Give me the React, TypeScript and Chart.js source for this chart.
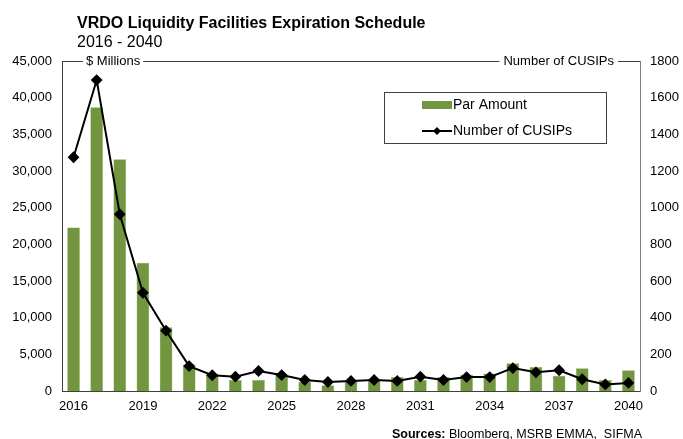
import React, { useEffect, useRef } from "react";
import { Chart, registerables } from "chart.js";

Chart.register(...registerables);

const years = Array.from({ length: 25 }, (_, i) => String(2016 + i));
const parAmount = [
  22300, 38700, 31600, 17500, 8700, 3550, 2300, 1500, 1500, 2200,
  1270, 780, 1400, 1600, 1900, 1500, 1900, 2200, 2400, 3800,
  3270, 2090, 3090, 1500, 2820,
];
const cusips = [
  1275, 1696, 964, 536, 329, 136, 86, 78, 109, 87,
  60, 49, 55, 60, 55, 78, 60, 76, 76, 125,
  102, 113, 64, 36, 44,
];
const leftTicks = [0, 5000, 10000, 15000, 20000, 25000, 30000, 35000, 40000, 45000];
const rightTicks = [0, 200, 400, 600, 800, 1000, 1200, 1400, 1600, 1800];

const FONT = "'Liberation Sans', Arial, sans-serif";
const GREEN = "#71963F";

const overlay = {
  id: "overlay",
  afterDraw(chart: any) {
    const ctx = chart.ctx;
    const a = chart.chartArea;
    ctx.save();
    // Title
    ctx.fillStyle = "#000";
    ctx.textBaseline = "alphabetic";
    ctx.textAlign = "left";
    ctx.font = `bold 16px ${FONT}`;
    ctx.fillText("VRDO Liquidity Facilities Expiration Schedule", 77, 28);
    ctx.font = `16px ${FONT}`;
    ctx.fillText("2016 - 2040", 77, 47);

    // Top frame with axis titles
    ctx.font = `13px ${FONT}`;
    ctx.textBaseline = "middle";
    const y = a.top;
    const leftTitle = "$ Millions";
    const rightTitle = "Number of CUSIPs";
    const lx = a.left + 24;
    const lw = ctx.measureText(leftTitle).width;
    const rw = ctx.measureText(rightTitle).width;
    const rx = a.right - 26 - rw;
    ctx.fillText(leftTitle, lx, y + 0.5);
    ctx.fillText(rightTitle, rx, y + 0.5);
    ctx.strokeStyle = "#404040";
    ctx.lineWidth = 1;
    ctx.beginPath();
    ctx.moveTo(a.left, y + 0.5);
    ctx.lineTo(lx - 3, y + 0.5);
    ctx.moveTo(lx + lw + 3, y + 0.5);
    ctx.lineTo(rx - 4, y + 0.5);
    ctx.moveTo(rx + rw + 4, y + 0.5);
    ctx.lineTo(a.right, y + 0.5);
    ctx.stroke();

    // Legend
    const bx = 384, by = 92, bw = 222, bh = 51;
    ctx.strokeStyle = "#404040";
    ctx.strokeRect(bx + 0.5, by + 0.5, bw, bh);
    ctx.fillStyle = GREEN;
    ctx.fillRect(422, 101, 30, 8);
    ctx.fillStyle = "#000";
    ctx.font = `14px ${FONT}`;
    ctx.textBaseline = "middle";
    ctx.fillText("Par Amount", 453, 105);
    ctx.strokeStyle = "#000";
    ctx.lineWidth = 2;
    ctx.beginPath();
    ctx.moveTo(422, 131);
    ctx.lineTo(452, 131);
    ctx.stroke();
    ctx.beginPath();
    ctx.moveTo(437, 127);
    ctx.lineTo(441, 131);
    ctx.lineTo(437, 135);
    ctx.lineTo(433, 131);
    ctx.closePath();
    ctx.fill();
    ctx.fillText("Number of CUSIPs", 453, 131);

    // Source
    ctx.textBaseline = "alphabetic";
    ctx.font = `bold 12.5px ${FONT}`;
    const s1 = "Sources:";
    ctx.fillText(s1, 392, 438);
    const w1 = ctx.measureText(s1).width;
    ctx.font = `12.5px ${FONT}`;
    ctx.fillText(" Bloomberg, MSRB EMMA,  SIFMA", 392 + w1, 438);
    ctx.restore();
  },
};

export default function App() {
  const ref = useRef<HTMLCanvasElement>(null);
  useEffect(() => {
    if (!ref.current) return;
    const chart = new Chart(ref.current, {
      type: "bar",
      data: {
        labels: years,
        datasets: [
          {
            type: "line",
            label: "Number of CUSIPs",
            data: cusips,
            yAxisID: "y1",
            borderColor: "#000",
            backgroundColor: "#000",
            borderWidth: 2,
            pointStyle: "rectRot",
            pointRadius: 4.5,
            pointBackgroundColor: "#000",
            pointBorderColor: "#000",
            tension: 0,
            order: 0,
          } as any,
          {
            type: "bar",
            label: "Par Amount",
            data: parAmount,
            yAxisID: "y",
            backgroundColor: GREEN,
            borderColor: "#8CAB62",
            borderWidth: 0.5,
            categoryPercentage: 1,
            barPercentage: 0.55,
            order: 1,
          },
        ],
      },
      options: {
        animation: false,
        responsive: false,
        layout: { padding: { top: 61, left: 0, right: 0, bottom: 0 } },
        plugins: {
          legend: { display: false },
          tooltip: { enabled: false },
        },
        scales: {
          x: {
            grid: { display: false, drawTicks: false },
            border: { display: true, color: "#404040", width: 1 },
            ticks: {
              autoSkip: false,
              maxRotation: 0,
              padding: 8,
              color: "#000",
              font: { family: FONT, size: 13 },
              callback: (_v: any, i: number) => (i % 3 === 0 ? years[i] : ""),
            },
            afterFit: (s: any) => {
              s.height = 48;
            },
          },
          y: {
            position: "left",
            min: 0,
            max: 45000,
            grid: { display: false, drawTicks: false },
            border: { display: true, color: "#404040", width: 1 },
            afterBuildTicks: (s: any) => {
              s.ticks = leftTicks.map((v) => ({ value: v }));
            },
            ticks: {
              padding: 10,
              color: "#000",
              font: { family: FONT, size: 13 },
              callback: (v: any) => Number(v).toLocaleString("en-US"),
            },
            afterFit: (s: any) => {
              s.width = 62;
            },
          },
          y1: {
            position: "right",
            min: 0,
            max: 1800,
            grid: { display: false, drawTicks: false },
            border: { display: true, color: "#808080", width: 1 },
            afterBuildTicks: (s: any) => {
              s.ticks = rightTicks.map((v) => ({ value: v }));
            },
            ticks: {
              padding: 10,
              color: "#000",
              font: { family: FONT, size: 13 },
              callback: (v: any) => String(v),
            },
            afterFit: (s: any) => {
              s.width = 43;
            },
          },
        },
      },
      plugins: [overlay],
    });
    return () => chart.destroy();
  }, []);
  return (
    <div style={{ position: "fixed", left: 0, top: 0, width: 683, height: 439, background: "#fff" }}>
      <canvas ref={ref} width={683} height={439} style={{ width: 683, height: 439, display: "block" }} />
    </div>
  );
}
